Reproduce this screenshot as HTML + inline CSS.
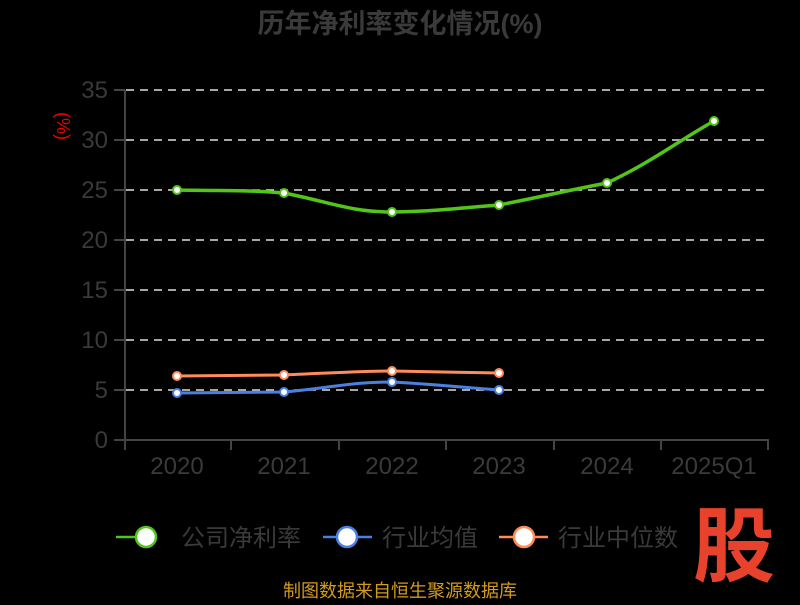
<!DOCTYPE html>
<html><head><meta charset="utf-8"><style>
body{margin:0;background:#000;width:800px;height:600px;overflow:hidden}
text{font-family:"Liberation Sans","Noto Sans CJK SC",sans-serif}
</style></head><body>
<svg width="800" height="600" xmlns="http://www.w3.org/2000/svg">
<rect width="800" height="600" fill="#000"/>
<text x="400" y="33" text-anchor="middle" font-size="27" font-weight="bold" fill="#3a3a3a">历年净利率变化情况(%)</text>
<text transform="translate(57,126) rotate(90)" text-anchor="middle" font-size="18" fill="#e00">(%)</text>
<g stroke="#ddd" stroke-width="1.5" stroke-dasharray="8,6">
<line x1="126" y1="90" x2="768" y2="90"/><line x1="126" y1="140" x2="768" y2="140"/>
<line x1="126" y1="190" x2="768" y2="190"/><line x1="126" y1="240" x2="768" y2="240"/>
<line x1="126" y1="290" x2="768" y2="290"/><line x1="126" y1="340" x2="768" y2="340"/>
<line x1="126" y1="390" x2="768" y2="390"/></g>
<g stroke="#444" stroke-width="2">
<line x1="125" y1="90" x2="125" y2="441"/><line x1="124" y1="440" x2="769" y2="440"/>
<line x1="114" y1="90" x2="125" y2="90"/><line x1="114" y1="140" x2="125" y2="140"/><line x1="114" y1="190" x2="125" y2="190"/><line x1="114" y1="240" x2="125" y2="240"/><line x1="114" y1="290" x2="125" y2="290"/><line x1="114" y1="340" x2="125" y2="340"/><line x1="114" y1="390" x2="125" y2="390"/><line x1="114" y1="440" x2="125" y2="440"/>
<line x1="231" y1="440" x2="231" y2="450"/><line x1="339" y1="440" x2="339" y2="450"/><line x1="446" y1="440" x2="446" y2="450"/><line x1="554" y1="440" x2="554" y2="450"/><line x1="661" y1="440" x2="661" y2="450"/><line x1="768" y1="440" x2="768" y2="450"/><line x1="125" y1="440" x2="125" y2="450"/>
</g>
<g font-size="24" fill="#3a3a3a" text-anchor="end">
<text x="108" y="98">35</text><text x="108" y="148">30</text><text x="108" y="198">25</text><text x="108" y="248">20</text><text x="108" y="298">15</text><text x="108" y="348">10</text><text x="108" y="398">5</text><text x="108" y="448">0</text></g>
<g font-size="24" fill="#3a3a3a" text-anchor="middle">
<text x="177" y="474">2020</text><text x="284" y="474">2021</text><text x="392" y="474">2022</text><text x="499" y="474">2023</text><text x="607" y="474">2024</text><text x="714" y="474">2025Q1</text></g>
<path d="M177,190 C230,191 250,190 284,193 C330,202 350,212 392,212 C440,211 460,208 499,205 C540,197 570,190 607,183 C650,163 680,140 714,121" fill="none" stroke="#52c41a" stroke-width="3.5"/>
<path d="M177,393 L284,392 C330,388 350,382 392,382 C430,384 460,387 499,390" fill="none" stroke="#4a80e0" stroke-width="3"/>
<path d="M177,376 L284,375 C330,373 360,371 392,371 C430,372 460,372 499,373" fill="none" stroke="#ff8c5a" stroke-width="3"/>
<g fill="#fff" stroke-width="2">
<g stroke="#52c41a"><circle cx="177" cy="190" r="4"/><circle cx="284" cy="193" r="4"/><circle cx="392" cy="212" r="4"/><circle cx="499" cy="205" r="4"/><circle cx="607" cy="183" r="4"/><circle cx="714" cy="121" r="4"/></g>
<g stroke="#4a80e0"><circle cx="177" cy="393" r="4"/><circle cx="284" cy="392" r="4"/><circle cx="392" cy="382" r="4"/><circle cx="499" cy="390" r="4"/></g>
<g stroke="#ff8c5a"><circle cx="177" cy="376" r="4"/><circle cx="284" cy="375" r="4"/><circle cx="392" cy="371" r="4"/><circle cx="499" cy="373" r="4"/></g>
</g>
<g stroke-width="2.5">
<line x1="116" y1="537" x2="153" y2="537" stroke="#52c41a"/><circle cx="146" cy="537" r="10" fill="#fff" stroke="#52c41a"/>
<line x1="323" y1="537" x2="372" y2="537" stroke="#4a80e0"/><circle cx="347" cy="537" r="10" fill="#fff" stroke="#4a80e0"/>
<line x1="499" y1="537" x2="548" y2="537" stroke="#ff8c5a"/><circle cx="524" cy="537" r="10" fill="#fff" stroke="#ff8c5a"/>
</g>
<g font-size="24" fill="#3a3a3a">
<text x="181" y="546">公司净利率</text><text x="382" y="546">行业均值</text><text x="558" y="546">行业中位数</text></g>
<text x="400" y="597" text-anchor="middle" font-size="18" fill="#d49a1e">制图数据来自恒生聚源数据库</text>
<text x="734" y="575" text-anchor="middle" font-size="82" font-weight="bold" fill="#e8412c" font-family="'Noto Sans CJK SC',sans-serif">股</text>
</svg>
</body></html>
